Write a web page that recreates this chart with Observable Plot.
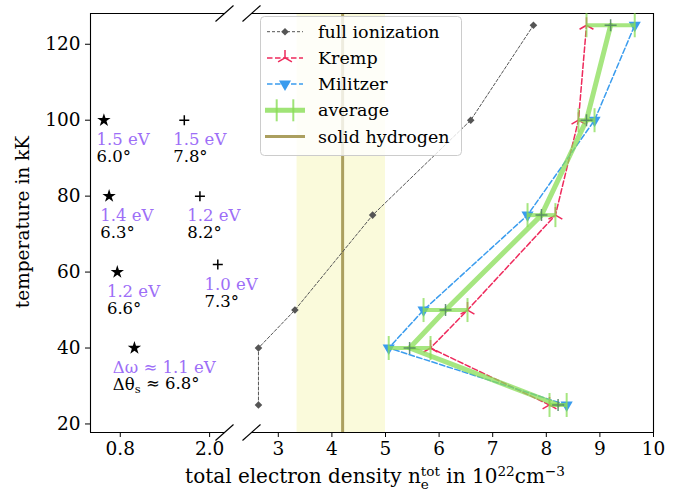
<!DOCTYPE html>
<html><head><meta charset="utf-8">
<script src="https://cdn.jsdelivr.net/npm/d3@7"></script>
<script src="https://cdn.jsdelivr.net/npm/@observablehq/plot@0.6"></script>
<style>
body{margin:0;background:#fff;font-family:"DejaVu Serif","Liberation Serif",serif;}
#wrap{position:relative;width:681px;height:498px;overflow:hidden;background:#fff;}
#left,#right,#legend{position:absolute;top:0;}
#left{left:0;width:230px;} #right{left:230px;width:451px;} #legend{left:0;}
#xlabel{position:absolute;left:375px;top:464px;transform:translateX(-50%);white-space:nowrap;font-size:20px;color:#000;}
#ylabel{position:absolute;left:22px;top:222px;transform:translate(-50%,-50%) rotate(-90deg);white-space:nowrap;font-size:18.5px;color:#000;}
.stk{display:inline-block;vertical-align:-0.42em;line-height:0.95;font-size:0.68em;text-align:left;}
.stk span{display:block;}
sup{font-size:0.68em;vertical-align:0.55em;line-height:0;}
svg text{font-family:"DejaVu Serif","Liberation Serif",serif;}
</style></head><body>
<div id="wrap">
<div id="left"></div><div id="right"></div><div id="legend"></div>
<div id="ylabel">temperature in kK</div>
<div id="xlabel">total electron density n<span class="stk"><span>tot</span><span>e</span></span> in 10<sup>22</sup>cm<sup>&#8722;3</sup></div>
</div>
<script>
// ---- data ----
const temps = [25, 40, 50, 75, 100, 125];
const fullIonization = [2.63, 2.63, 3.31, 4.76, 6.59, 7.76];
const kremp = [8.06, 5.84, 6.53, 8.17, 8.60, 8.75];
const militzer = [8.38, 5.06, 5.71, 7.65, 8.90, 9.65];
const average = [8.22, 5.45, 6.12, 7.91, 8.75, 9.20];
const averageErr = [0.16, 0.39, 0.41, 0.26, 0.15, 0.45];
const solidHydrogen = 4.2;
const solidHydrogenRange = [3.35, 5.0];

const starX = [0.58, 0.65, 0.76, 0.99];
const starT = [100, 80, 60, 40];
const starLabelX = [0.48, 0.53, 0.62, 0.70];
const starEv = ["1.5 eV", "1.4 eV", "1.2 eV", "Δω ≈ 1.1 eV"];
const starDeg = ["6.0°", "6.3°", "6.6°", "Δθs ≈ 6.8°"];

const plusX = [1.66, 1.87, 2.11];
const plusT = [100, 80, 62];
const plusLabelX = [1.51, 1.70, 1.93];
const plusEv = ["1.5 eV", "1.2 eV", "1.0 eV"];
const plusDeg = ["7.8°", "8.2°", "7.3°"];

const yTicks = [20, 40, 60, 80, 100, 120];
const leftTicks = [0.8, 2.0];
const rightTicks = [3, 4, 5, 6, 7, 8, 9, 10];
const yDomain = [17.75, 128.1];
const leftDomain = [0.4, 2.2];
const rightDomain = [2.5, 10];

// ---- colours ----
const cFull = "#555555", cKremp = "#ee2a5c", cMil = "#3a9cee", cAvg = "#88dd55",
      cSolid = "#ab9f5f", cBand = "#fafadb", cEv = "#9d6ef7";
const FONT = '"DejaVu Serif","Liberation Serif",serif';

// ---- custom symbols ----
const triUp = {draw(ctx, size){const r = Math.sqrt(size/Math.PI);
  ctx.moveTo(0,0); ctx.lineTo(0,-r); ctx.moveTo(0,0); ctx.lineTo(-0.866*r,0.5*r);
  ctx.moveTo(0,0); ctx.lineTo(0.866*r,0.5*r);}};
const triDown = {draw(ctx, size){const r = Math.sqrt(size/Math.PI);
  ctx.moveTo(-0.866*r,-0.5*r); ctx.lineTo(0.866*r,-0.5*r); ctx.lineTo(0,r); ctx.closePath();}};
const diamond = {draw(ctx, size){const r = Math.sqrt(size/Math.PI);
  ctx.moveTo(0,-r); ctx.lineTo(r,0); ctx.lineTo(0,r); ctx.lineTo(-r,0); ctx.closePath();}};
const plus = {draw(ctx, size){const r = Math.sqrt(size/Math.PI);
  ctx.moveTo(-r,0); ctx.lineTo(r,0); ctx.moveTo(0,-r); ctx.lineTo(0,r);}};
const vbar = {draw(ctx, size){const r = Math.sqrt(size/Math.PI);
  ctx.moveTo(0,-r); ctx.lineTo(0,r);}};
const slash = {draw(ctx){ctx.moveTo(-9,8); ctx.lineTo(9,-8);}};

const idx = temps.map((_, i) => i);
const sIdx = starX.map((_, i) => i);
const pIdx = plusX.map((_, i) => i);

const baseStyle = {fontFamily: FONT, fontSize: "18.5px", color: "#000", background: "transparent", overflow: "visible", maxWidth: "none"};
const ANN = "16.5px";

const left = Plot.plot({
  width: 230, height: 498, marginLeft: 90, marginRight: 6, marginTop: 13, marginBottom: 66,
  style: baseStyle,
  x: {domain: leftDomain},
  y: {domain: yDomain},
  marks: [
    Plot.axisY(yTicks, {tickSize: 5, tickPadding: 5, label: null, fontSize: "18.5px"}),
    Plot.axisX(leftTicks, {tickSize: 5, tickPadding: 4, label: null, fontSize: "18.5px", tickFormat: d => d.toFixed(1)}),
    Plot.ruleX([leftDomain[0]], {stroke: "#000", strokeWidth: 1.1}),
    Plot.ruleY(yDomain, {stroke: "#000", strokeWidth: 1.1}),
    Plot.dot([0, 1], {x: () => leftDomain[1], y: i => yDomain[i], symbol: slash, stroke: "#000", strokeWidth: 1.1}),
    Plot.dot(sIdx, {x: i => starX[i], y: i => starT[i], symbol: "star", r: 4.2, fill: "#000", stroke: "none"}),
    Plot.dot(pIdx, {x: i => plusX[i], y: i => plusT[i], symbol: plus, r: 5, stroke: "#000", strokeWidth: 1.5, fill: "none"}),
    Plot.text(sIdx, {x: i => starLabelX[i], y: i => starT[i], text: i => starEv[i], dy: 20, textAnchor: "start", fill: cEv, fontSize: ANN}),
    Plot.text(sIdx, {x: i => starLabelX[i], y: i => starT[i], text: i => starDeg[i], dy: 37, textAnchor: "start", fill: "#000", fontSize: ANN}),
    Plot.text(pIdx, {x: i => plusLabelX[i], y: i => plusT[i], text: i => plusEv[i], dy: 20, textAnchor: "start", fill: cEv, fontSize: ANN}),
    Plot.text(pIdx, {x: i => plusLabelX[i], y: i => plusT[i], text: i => plusDeg[i], dy: 37, textAnchor: "start", fill: "#000", fontSize: ANN})
  ]
});
document.getElementById("left").appendChild(left);
d3.select(left).selectAll("text").filter(function(){return this.textContent === "Δθs ≈ 6.8°";})
  .each(function(){const t = d3.select(this); t.text("Δθ");
    t.append("tspan").attr("dy", "0.25em").attr("font-size", "0.7em").text("s");
    t.append("tspan").attr("dy", "-0.25em").text(" ≈ 6.8°");});

const right = Plot.plot({
  width: 451, height: 498, marginLeft: 21, marginRight: 28, marginTop: 13, marginBottom: 66,
  style: baseStyle,
  x: {domain: rightDomain},
  y: {domain: yDomain, axis: null},
  marks: [
    Plot.rect([solidHydrogenRange], {x1: d => d[0], x2: d => d[1], fill: cBand}),
    Plot.ruleX([solidHydrogen], {stroke: cSolid, strokeWidth: 3}),
    Plot.axisX(rightTicks, {tickSize: 5, tickPadding: 4, label: null, fontSize: "18.5px"}),
    Plot.ruleX([rightDomain[1]], {stroke: "#000", strokeWidth: 1.1}),
    Plot.ruleY(yDomain, {stroke: "#000", strokeWidth: 1.1}),
    Plot.dot([0, 1], {x: () => rightDomain[0], y: i => yDomain[i], symbol: slash, stroke: "#000", strokeWidth: 1.1}),
    // full ionization
    Plot.line(idx, {x: i => fullIonization[i], y: i => temps[i], stroke: cFull, strokeWidth: 1, strokeDasharray: "3,2"}),
    Plot.dot(idx, {x: i => fullIonization[i], y: i => temps[i], symbol: diamond, r: 3.8, fill: cFull, stroke: "none"}),
    // Kremp
    Plot.line(idx, {x: i => kremp[i], y: i => temps[i], stroke: cKremp, strokeWidth: 1.5, strokeDasharray: "5.5,2.5"}),
    Plot.dot(idx, {x: i => kremp[i], y: i => temps[i], symbol: triUp, r: 8, stroke: cKremp, strokeWidth: 1.5, fill: "none"}),
    // Militzer
    Plot.line(idx, {x: i => militzer[i], y: i => temps[i], stroke: cMil, strokeWidth: 1.5, strokeDasharray: "5.5,2.5"}),
    Plot.dot(idx, {x: i => militzer[i], y: i => temps[i], symbol: triDown, r: 7, fill: cMil, stroke: "none"}),
    // average
    Plot.line(idx, {x: i => average[i], y: i => temps[i], stroke: cAvg, strokeWidth: 5, strokeOpacity: 0.75}),
    Plot.link(idx, {x1: i => average[i] - averageErr[i], x2: i => average[i] + averageErr[i], y1: i => temps[i], y2: i => temps[i], stroke: cAvg, strokeWidth: 4, strokeOpacity: 0.75}),
    Plot.dot(idx.flatMap(i => [[i, -1], [i, 1]]), {x: ([i, s]) => average[i] + s * averageErr[i], y: ([i]) => temps[i], symbol: vbar, r: 12, stroke: cAvg, strokeWidth: 2, strokeOpacity: 0.75}),
    Plot.dot(idx, {x: i => average[i], y: i => temps[i], symbol: plus, r: 6, stroke: "#4f8060", strokeWidth: 1.5, strokeOpacity: 0.85})
  ]
});
document.getElementById("right").appendChild(right);

// ---- legend (overlay) ----
const legendItems = ["full ionization", "Kremp", "Militzer", "average", "solid hydrogen"];
const lg = d3.select("#legend").append("svg").attr("width", 681).attr("height", 498)
  .style("position", "absolute").style("left", 0).style("top", 0);
lg.append("rect").attr("x", 260.5).attr("y", 16.5).attr("width", 201).attr("height", 139).attr("rx", 4)
  .attr("fill", "#fff").attr("fill-opacity", 0.8).attr("stroke", "#cccccc").attr("stroke-width", 1);
const rowY = i => 31.7 + i * 26.2;
const sx0 = 267, sx1 = 303, scx = 285;
function symPath(sym, r){const p = d3.path(); sym.draw(p, Math.PI*r*r); return p.toString();}
lg.append("line").attr("x1", sx0).attr("x2", sx1).attr("y1", rowY(0)).attr("y2", rowY(0)).attr("stroke", cFull).attr("stroke-dasharray", "3,2");
lg.append("path").attr("d", symPath(diamond, 3.8)).attr("transform", `translate(${scx},${rowY(0)})`).attr("fill", cFull);
lg.append("line").attr("x1", sx0).attr("x2", sx1).attr("y1", rowY(1)).attr("y2", rowY(1)).attr("stroke", cKremp).attr("stroke-width", 1.5).attr("stroke-dasharray", "5.5,2.5");
lg.append("path").attr("d", symPath(triUp, 8)).attr("transform", `translate(${scx},${rowY(1)})`).attr("fill", "none").attr("stroke", cKremp).attr("stroke-width", 1.5);
lg.append("line").attr("x1", sx0).attr("x2", sx1).attr("y1", rowY(2)).attr("y2", rowY(2)).attr("stroke", cMil).attr("stroke-width", 1.5).attr("stroke-dasharray", "5.5,2.5");
lg.append("path").attr("d", symPath(triDown, 7)).attr("transform", `translate(${scx},${rowY(2)})`).attr("fill", cMil);
lg.append("line").attr("x1", 265).attr("x2", 305).attr("y1", rowY(3)).attr("y2", rowY(3)).attr("stroke", cAvg).attr("stroke-width", 5).attr("stroke-opacity", 0.8);
[276.7, 293.3].forEach(x => lg.append("line").attr("x1", x).attr("x2", x).attr("y1", rowY(3) - 11).attr("y2", rowY(3) + 11).attr("stroke", cAvg).attr("stroke-width", 2).attr("stroke-opacity", 0.8));
lg.append("line").attr("x1", 265).attr("x2", 305).attr("y1", rowY(4)).attr("y2", rowY(4)).attr("stroke", cSolid).attr("stroke-width", 3);
legendItems.forEach((t, i) => lg.append("text").attr("x", 318).attr("y", rowY(i)).attr("dy", "0.35em")
  .attr("font-family", FONT).attr("font-size", 17.5).attr("fill", "#000").text(t));
</script>
</body></html>
